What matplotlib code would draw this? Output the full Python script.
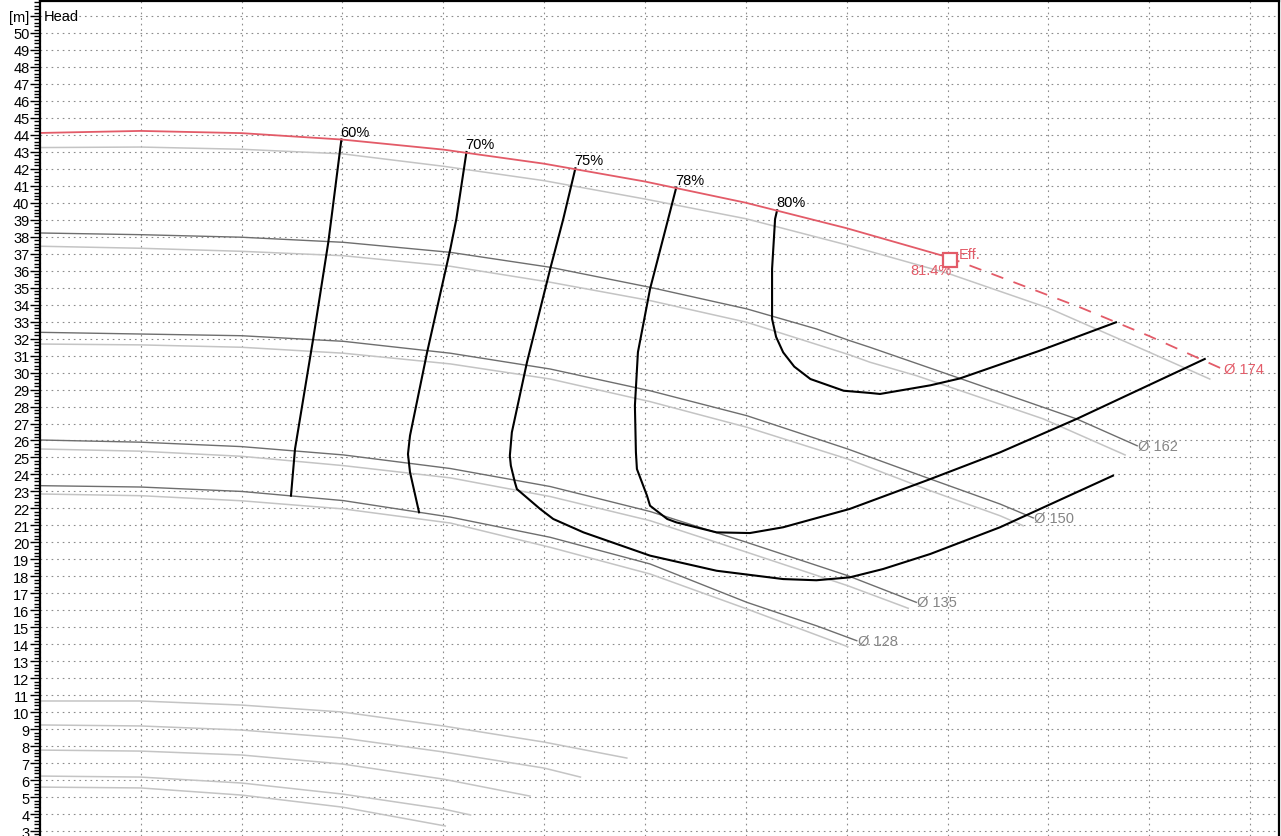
import matplotlib
matplotlib.use("Agg")
import matplotlib.pyplot as plt
from matplotlib.ticker import MultipleLocator

plt.rcParams['font.family'] = ['Liberation Sans', 'DejaVu Sans']

# flow axis carries no labels, one grid step = 10 units
# ---- impeller curves (head in m) ----
q_174 = [0, 10, 20, 30, 40, 50, 60, 70, 80, 90]
h_174 = [44.11, 44.23, 44.10, 43.72, 43.13, 42.30, 41.25, 40.00, 38.50, 36.80]
q_174_ext = [90, 100, 103.1, 110, 117.3]
h_174_ext = [36.80, 34.55, 33.85, 32.15, 30.20]
q_174b = [0, 10, 20, 30, 40, 50, 60, 70, 80, 90, 100, 110, 116]
h_174b = [43.25, 43.28, 43.15, 42.88, 42.15, 41.30, 40.22, 39.06, 37.52, 35.85, 33.80, 31.20, 29.62]

q_162 = [0, 10, 20, 30.1, 40.7, 50.6, 60.5, 70.1, 77.0, 80.3, 82.3, 91.4, 102.8, 108.8]
h_162 = [38.22, 38.12, 37.97, 37.67, 37.08, 36.20, 35.02, 33.75, 32.57, 31.88, 31.49, 29.62, 27.27, 25.69]
q_162b = [0, 10, 20, 30.1, 40.7, 50.6, 60.5, 70.1, 80.3, 82.3, 86.9, 99.5, 107.6]
h_162b = [37.44, 37.32, 37.14, 36.88, 36.26, 35.32, 34.24, 32.96, 31.04, 30.61, 29.82, 27.27, 25.15]

q_150 = [0, 10, 20, 30.1, 40.7, 50.6, 60.5, 70.1, 80.1, 88.3, 95.2, 98.5]
h_150 = [32.37, 32.27, 32.17, 31.84, 31.14, 30.21, 28.93, 27.46, 25.50, 23.73, 22.26, 21.44]
q_150b = [0, 10, 20, 30.1, 40.7, 50.6, 60.5, 70.1, 80.1, 88.3, 95.2, 97.5]
h_150b = [31.68, 31.63, 31.49, 31.14, 30.51, 29.62, 28.29, 26.78, 24.91, 23.04, 21.57, 20.98]

q_135 = [0, 10, 20, 30.1, 40.7, 50.6, 60.5, 70.1, 80.1, 86.9]
h_135 = [26.03, 25.90, 25.64, 25.15, 24.35, 23.29, 21.82, 20.00, 18.04, 16.47]
q_135b = [0, 10, 20, 30.1, 40.7, 50.6, 60.5, 70.1, 80.1, 86.1]
h_135b = [25.50, 25.37, 25.07, 24.52, 23.80, 22.70, 21.28, 19.42, 17.45, 16.12]

q_128 = [0, 10, 20, 30.1, 40.7, 50.6, 60.5, 70.1, 77.0, 81.0]
h_128 = [23.34, 23.26, 23.00, 22.46, 21.49, 20.30, 18.73, 16.47, 15.09, 14.21]
q_128b = [0, 10, 20, 30.1, 40.7, 50.6, 60.5, 70.1, 80.1]
h_128b = [22.85, 22.75, 22.45, 21.97, 21.14, 19.71, 18.14, 16.08, 13.86]

diam_labels = ['Ø 174', 'Ø 162', 'Ø 150', 'Ø 135', 'Ø 128']

# ---- lower curves ----
q_low1 = [0, 10, 20, 30, 40, 50, 58.2]
h_low1 = [10.66, 10.66, 10.42, 10.01, 9.19, 8.24, 7.30]
q_low2 = [0, 10, 20, 30, 40, 50, 53.6]
h_low2 = [9.25, 9.19, 8.95, 8.48, 7.66, 6.71, 6.18]
q_low3 = [0, 10, 20, 30, 40, 48.6]
h_low3 = [7.77, 7.71, 7.48, 6.95, 6.06, 5.06]
q_low4 = [0, 10, 20, 30, 40, 42.7]
h_low4 = [6.24, 6.18, 5.83, 5.18, 4.30, 3.95]
q_low5 = [0, 10, 20, 30, 40.2]
h_low5 = [5.59, 5.54, 5.12, 4.41, 3.30]

# ---- iso-efficiency curves ----
q_e60 = [29.9, 28.9, 28.6, 27.1, 25.3, 24.9]
h_e60 = [43.73, 39.05, 37.67, 31.98, 25.50, 22.75]
q_e70 = [42.3, 41.3, 40.7, 38.4, 36.7, 36.5, 36.7, 37.6]
h_e70 = [42.99, 39.05, 37.28, 31.20, 26.28, 25.20, 24.14, 21.77]
q_e75 = [53.1, 51.9, 50.6, 48.3, 46.8, 46.6, 46.7, 47.1, 47.3, 49.6, 50.9, 53.9,
         60.5, 67.1, 73.7, 77.0, 80.3, 83.6, 88.3, 95.2, 106.4]
h_e75 = [42.03, 39.05, 36.10, 30.61, 26.48, 25.10, 24.52, 23.54, 23.14, 21.97, 21.38, 20.59,
         19.22, 18.33, 17.84, 17.77, 17.94, 18.43, 19.32, 20.89, 23.93]
q_e78 = [63.1, 62.3, 60.5, 59.3, 59.0, 59.1, 59.2, 60.2, 60.5, 62.2, 63.1, 67.1,
         70.4, 73.7, 80.3, 88.3, 95.2, 102.8, 115.5]
h_e78 = [40.90, 39.05, 34.92, 31.20, 28.05, 25.31, 24.32, 22.75, 22.16, 21.38, 21.18, 20.59,
         20.55, 20.89, 21.97, 23.73, 25.30, 27.27, 30.80]
q_e80 = [73.1, 72.9, 72.6, 72.6, 73.0, 73.7, 74.8, 76.4, 79.7, 82.3, 83.3, 88.3, 91.2, 99.2, 106.7]
h_e80 = [39.56, 39.05, 36.10, 33.16, 32.10, 31.19, 30.35, 29.62, 28.93, 28.80, 28.74, 29.25, 29.65, 31.30, 32.96]
eff_labels = ['60%', '70%', '75%', '78%', '80%']

bep_q, bep_h = 90.2, 36.65
bep_text = '81.4%'

red = '#e35b68'
dark = '#6e6e6e'
light = '#c4c4c4'
grey_txt = '#858585'

fig = plt.figure(figsize=(12.81, 8.37), dpi=100)
ax = fig.add_axes([0.0311, 0.0, 0.9674, 0.9976])
ax.set_xlim(0, 122.87)
ax.set_ylim(2.71, 51.88)

ax.xaxis.set_major_locator(MultipleLocator(10))
ax.set_xticklabels([])
ax.tick_params(axis='x', length=0)
yt = list(range(3, 52))
ax.set_yticks(yt)
ax.set_yticklabels([str(v) for v in yt[:-1]] + ['[m]'], fontsize=10.5)
ax.yaxis.set_minor_locator(MultipleLocator(0.2))
ax.tick_params(axis='y', which='major', direction='out', length=7, width=1, pad=0.5)
ax.tick_params(axis='y', which='minor', direction='out', length=4, width=1)
ax.grid(True, which='major', color='#8c8c8c', linestyle=(0, (1.5, 3.5)), linewidth=0.8)
ax.set_axisbelow(True)
ax.spines['bottom'].set_visible(False)
for s in ['left', 'top', 'right']:
    ax.spines[s].set_linewidth(1.6)

ax.text(0.4, 51.0, 'Head', fontsize=10.5, va='center', ha='left')

# lower curves
for q, h in [(q_low1, h_low1), (q_low2, h_low2), (q_low3, h_low3), (q_low4, h_low4), (q_low5, h_low5)]:
    ax.plot(q, h, color=light, lw=1.1)

# diameters
ax.plot(q_174b, h_174b, color=light, lw=1.1)
pairs = [(q_162, h_162, q_162b, h_162b), (q_150, h_150, q_150b, h_150b),
         (q_135, h_135, q_135b, h_135b), (q_128, h_128, q_128b, h_128b)]
for (qa, ha, qb, hb), lab in zip(pairs, diam_labels[1:]):
    ax.plot(qb, hb, color=light, lw=1.1)
    ax.plot(qa, ha, color=dark, lw=1.0)
    ax.text(qa[-1] + 0.1, ha[-1], lab, color=grey_txt, fontsize=10.5, va='center', ha='left')

# efficiency curves
effs = [(q_e60, h_e60), (q_e70, h_e70), (q_e75, h_e75), (q_e78, h_e78), (q_e80, h_e80)]
for (q, h), lab in zip(effs, eff_labels):
    ax.plot(q, h, color='black', lw=1.5)
    ax.text(q[0] - 0.1, h[0] + 0.05, lab, fontsize=10.5, va='bottom', ha='left')

# max diameter
ax.plot(q_174, h_174, color=red, lw=1.3)
ax.plot(q_174_ext, h_174_ext, color=red, lw=1.3, linestyle=(0, (7, 6)))
ax.text(q_174_ext[-1] + 0.1, h_174_ext[-1], diam_labels[0], color=red, fontsize=10.5,
        va='center', ha='left')

ax.plot([bep_q], [bep_h], marker='s', markersize=9.5, markerfacecolor='white',
        markeredgecolor=red, markeredgewidth=1.6, zorder=5)
ax.text(bep_q + 0.9, bep_h + 0.35, 'Eff.', color=red, fontsize=10.5, va='center', ha='left')
ax.text(bep_q + 0.2, bep_h - 0.6, bep_text, color=red, fontsize=10.5, va='center', ha='right')

fig.savefig('out.png', dpi=100)
